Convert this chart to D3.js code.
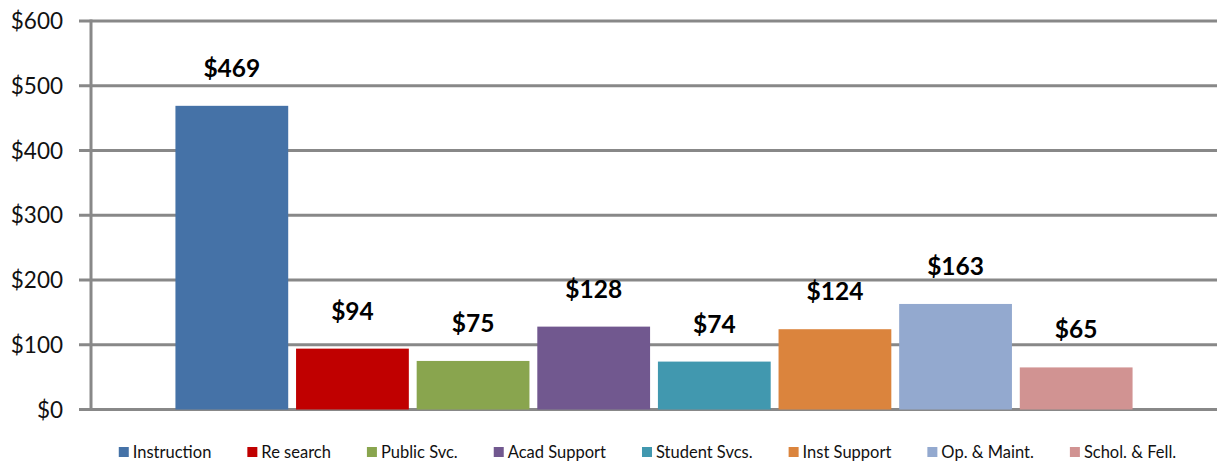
<!DOCTYPE html>
<html>
<head>
<meta charset="utf-8">
<script src="https://cdn.jsdelivr.net/npm/d3@7"></script>
<style>
  body { margin: 0; background: #fff; }
  svg { display: block; }
</style>
</head>
<body>
<div id="chart"></div>
<script>
// spending per category, bar chart with value labels

const categories = ["Instruction", "Re search", "Public Svc.", "Acad Support",
  "Student Svcs.", "Inst Support", "Op. & Maint.", "Schol. & Fell."];
const values = [469, 94, 75, 128, 74, 124, 163, 65];
const colors = ["#4572A7", "#C00000", "#89A54E", "#71588F",
  "#4198AF", "#DB843D", "#93A9CF", "#D19392"];
const yTicks = [0, 100, 200, 300, 400, 500, 600];

var width = 1219;
var height = 463;
var plotLeft = 91, plotRight = 1217, plotTop = 21, plotBottom = 409.5;

var svg = d3.select("#chart").append("svg")
  .attr("width", width)
  .attr("height", height)
  .style("font-family", "Lato, 'Open Sans', sans-serif");

var x = d3.scaleBand()
  .domain(categories)
  .range([plotLeft, plotRight])
  .paddingInner(0.065)
  .paddingOuter(0.7);

var y = d3.scaleLinear()
  .domain([0, 600])
  .range([plotBottom, plotTop]);

// gridlines + ticks
var grid = svg.append("g");
grid.selectAll("line")
  .data(yTicks).enter()
  .append("line")
    .attr("x1", plotLeft - 12)
    .attr("x2", plotRight)
    .attr("y1", function(d) { return y(d); })
    .attr("y2", function(d) { return y(d); })
    .attr("stroke", "#888")
    .attr("stroke-width", 3);

grid.append("line")
  .attr("x1", plotLeft).attr("x2", plotLeft)
  .attr("y1", y(600) - 1.5).attr("y2", y(0) + 1.5)
  .attr("stroke", "#888")
  .attr("stroke-width", 3);

// y labels
svg.append("g").selectAll("text")
  .data(yTicks).enter()
  .append("text")
    .attr("x", 63)
    .attr("y", function(d) { return y(d); })
    .attr("dy", "0.36em")
    .attr("text-anchor", "end")
    .attr("font-size", "22.5px")
    .attr("fill", "#111")
    .text(function(d) { return "$" + d; });

// bars
svg.append("g").selectAll("rect")
  .data(values).enter()
  .append("rect")
    .attr("x", function(d, i) { return x(categories[i]); })
    .attr("y", function(d) { return y(d); })
    .attr("width", x.bandwidth())
    .attr("height", function(d) { return y(0) - y(d); })
    .attr("fill", function(d, i) { return colors[i]; });

// value labels
svg.append("g").selectAll("text")
  .data(values).enter()
  .append("text")
    .attr("x", function(d, i) { return x(categories[i]) + x.bandwidth() / 2; })
    .attr("y", function(d) { return y(d) - 29; })
    .attr("text-anchor", "middle")
    .attr("font-size", "24.5px")
    .attr("font-weight", "bold")
    .attr("fill", "#000")
    .text(function(d) { return "$" + d; });

// legend
var legend = svg.append("g");
var items = legend.selectAll("g")
  .data(categories).enter()
  .append("g");

items.append("rect")
  .attr("width", 10)
  .attr("height", 10)
  .attr("y", 447)
  .attr("fill", function(d, i) { return colors[i]; });

items.append("text")
  .attr("x", 14)
  .attr("y", 458)
  .attr("font-size", "16.5px")
  .attr("fill", "#111")
  .text(function(d) { return d; });

var pos = 0;
items.each(function() {
  var w = d3.select(this).select("text").node().getComputedTextLength();
  d3.select(this).attr("transform", "translate(" + pos + ",0)");
  pos += 14 + w + 36;
});
var total = pos - 36;
legend.attr("transform", "translate(" + (647.5 - total / 2) + ",0)");
</script>
</body>
</html>
